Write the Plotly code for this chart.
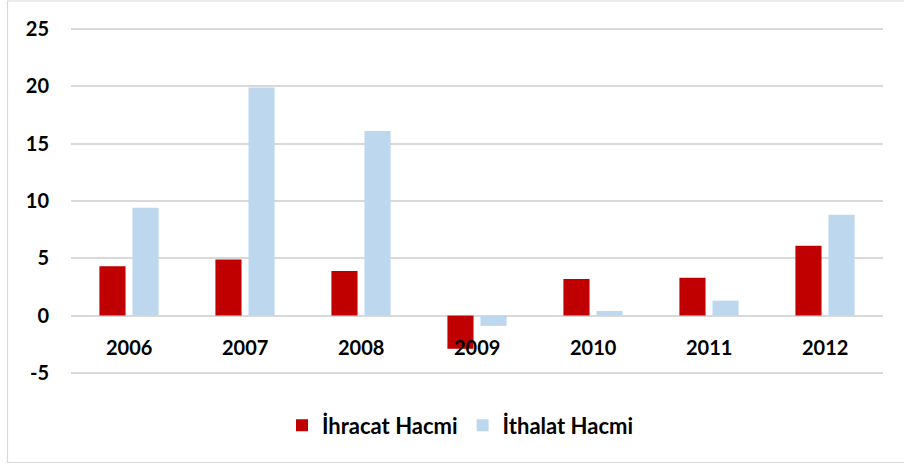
import plotly.graph_objects as go

years = ["2006", "2007", "2008", "2009", "2010", "2011", "2012"]
ihracat = [4.3, 4.9, 3.9, -2.9, 3.2, 3.3, 6.1]
ithalat = [9.4, 19.9, 16.1, -0.9, 0.4, 1.3, 8.8]
y_ticks = [-5, 0, 5, 10, 15, 20, 25]

FONT = "Lato"
W, H = 904, 466
L, R, T, B = 71, 21, 28, 92

fig = go.Figure()
fig.add_trace(go.Bar(x=years, y=ihracat, name="<b>İhracat Hacmi</b>",
                     marker=dict(color="#C00000", line=dict(width=0))))
fig.add_trace(go.Bar(x=years, y=ithalat, name="<b>İthalat Hacmi</b>",
                     marker=dict(color="#BDD7EE", line=dict(width=0))))

# category labels placed next to the zero line (Excel style)
for i, yr in enumerate(years):
    fig.add_annotation(x=i, y=0, xref="x", yref="y", text="<b>%s</b>" % yr,
                       showarrow=False, yanchor="middle", yshift=-31,
                       font=dict(family=FONT, size=20, color="#000000"))

pw = W - L - R
ph = H - T - B
fig.add_shape(type="rect", xref="paper", yref="paper",
              x0=(7.5 - L) / pw, x1=(906 - L) / pw,
              y0=(H - B - 462.5) / ph, y1=(H - B - 1) / ph,
              line=dict(color="#D9D9D9", width=1.2), fillcolor="rgba(0,0,0,0)",
              layer="below")

fig.update_layout(
    width=W, height=H,
    margin=dict(l=L, r=R, t=T, b=B, autoexpand=False),
    paper_bgcolor="white", plot_bgcolor="white",
    barmode="group", bargap=0.43, bargroupgap=0.21,
    font=dict(family=FONT, size=20, color="#000000"),
    xaxis=dict(type="category", range=[-0.5, len(years) - 0.5],
               showticklabels=False, showgrid=False,
               zeroline=False, showline=False, ticks="", automargin=False),
    yaxis=dict(range=[-5.1, 25.1], tickvals=y_ticks,
               ticktext=["<b>%d</b>" % v for v in y_ticks],
               showgrid=True, gridcolor="#D9D9D9", gridwidth=1.5,
               zeroline=True, zerolinecolor="#D9D9D9", zerolinewidth=1.5,
               showline=False, ticks="", ticklabelstandoff=21, automargin=False,
               tickfont=dict(family=FONT, size=20, color="#000000")),
    showlegend=True,
    legend=dict(orientation="h", x=(460.5 - L) / pw, xanchor="center",
                y=(H - B - 425.5) / ph, yanchor="middle",
                font=dict(family=FONT, size=22, color="#000000"),
                itemwidth=30, traceorder="normal"),
)
fig.update_traces(hoverinfo="skip")

fig.write_html("out.html", config={"displayModeBar": False},
               post_script="document.body.style.margin='0px';")
